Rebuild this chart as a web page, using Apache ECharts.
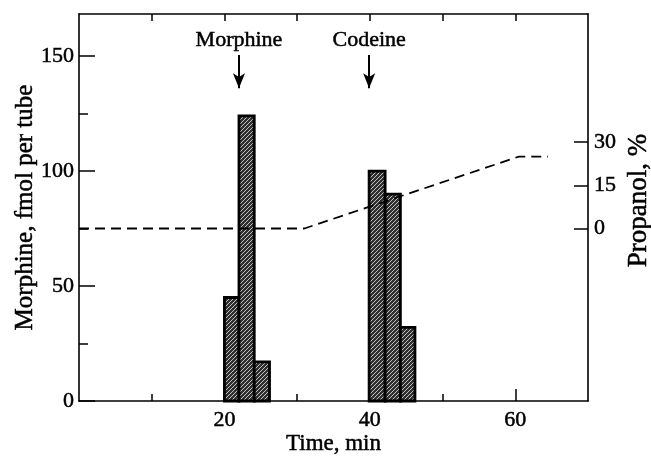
<!DOCTYPE html>
<html>
<head>
<meta charset="utf-8">
<script src="https://cdn.jsdelivr.net/npm/echarts@6/dist/echarts.min.js"></script>
<style>
  html, body { margin: 0; padding: 0; background: #fff; }
  #chart { width: 651px; height: 456px; }
</style>
</head>
<body>
<div id="chart"></div>
<script>
// histogram bins (edges in min) and heights (fmol per tube)
const morphineEdges = [20, 22, 24.1, 26.2];
const morphineValues = [45, 124, 17];
const codeineEdges = [39.9, 42.1, 44.2, 46.2];
const codeineValues = [100, 90, 32];

// propanol gradient (dashed line)
const propanolTime = [0, 31, 60.5, 64.5];
const propanolPct = [0, 0, 25, 25];

// ticks
const xMajorTicks = [20, 40, 60];
const xMinorTicks = [10, 30, 50];
const xTopTicks = [10, 20, 30, 40, 50, 60];
const yMajorTicks = [0, 50, 100, 150];
const yMinorTicks = [25, 75, 125];
const propanolTicks = [0, 15, 30];

// injection arrows
const arrowTime = [22, 39.9];
const arrowLabels = ["Morphine", "Codeine"];

const FONT = "Liberation Serif";
const INK = "#000";
// scanned type looks a bit heavier than plain Times
const txt = (size) => ({
    color: INK, fontFamily: FONT, fontSize: size,
    textBorderColor: INK, textBorderWidth: 0.5,
});

function hatch() {
    const c = document.createElement("canvas");
    c.width = c.height = 4;
    const ctx = c.getContext("2d");
    ctx.fillStyle = "#303030";
    ctx.fillRect(0, 0, 4, 4);
    ctx.strokeStyle = "#d0d0d0";
    ctx.lineWidth = 0.9;
    ctx.beginPath();
    ctx.moveTo(0, 4); ctx.lineTo(4, 0);
    ctx.moveTo(-1, 1); ctx.lineTo(1, -1);
    ctx.moveTo(3, 5); ctx.lineTo(5, 3);
    ctx.stroke();
    return { image: c, repeat: "repeat" };
}

function bins(edges, values) {
    return values.map((v, i) => [edges[i], edges[i + 1], v]);
}

const hatchFill = hatch();
const barData = bins(morphineEdges, morphineValues).concat(bins(codeineEdges, codeineValues));

const tickStyle = { color: INK, width: 1.5 };
const lineStyle = { color: INK, width: 1.6 };

const chart = echarts.init(document.getElementById("chart"));
chart.setOption({
    animation: false,
    backgroundColor: "#fff",
    grid: { left: 79, right: 63, top: 14, bottom: 55, outerBoundsMode: "none" },
    xAxis: [
        {
            type: "value", position: "bottom", min: 0, max: 70,
            axisLine: { onZero: false, lineStyle },
            axisTick: { inside: true, length: 12, customValues: xMajorTicks, lineStyle: tickStyle },
            axisLabel: Object.assign({ customValues: xMajorTicks, margin: 8 }, txt(22)),
            splitLine: { show: false },
            name: "Time, min", nameLocation: "middle", nameGap: 31, nameMoveOverlap: false,
            nameTextStyle: txt(23),
        },
        {
            type: "value", position: "bottom", min: 0, max: 70,
            axisLine: { show: false, onZero: false },
            axisTick: { inside: true, length: 7, customValues: xMinorTicks, lineStyle: tickStyle },
            axisLabel: { show: false },
            splitLine: { show: false },
        },
        {
            type: "value", position: "top", min: 0, max: 70,
            axisLine: { show: true, onZero: false, lineStyle },
            axisTick: { inside: true, length: 7, customValues: xTopTicks, lineStyle: tickStyle },
            axisLabel: { show: false },
            splitLine: { show: false },
        },
    ],
    yAxis: [
        {
            type: "value", position: "left", min: 0, max: 168.3,
            axisLine: { show: true, onZero: false, lineStyle },
            axisTick: { show: true, inside: true, length: 16, customValues: yMajorTicks, lineStyle: tickStyle },
            axisLabel: Object.assign({ customValues: yMajorTicks, margin: 5 }, txt(22)),
            splitLine: { show: false },
            name: "Morphine, fmol per tube", nameLocation: "middle", nameGap: 41, nameRotate: 90,
            nameMoveOverlap: false,
            nameTextStyle: txt(25),
        },
        {
            type: "value", position: "right", min: -60, max: 74.6,
            axisLine: { show: true, onZero: false, lineStyle },
            axisTick: { show: true, inside: true, length: 14, customValues: propanolTicks, lineStyle: tickStyle },
            axisLabel: Object.assign({ customValues: propanolTicks, margin: 6 }, txt(22)),
            splitLine: { show: false },
            name: "Propanol, %", nameLocation: "middle", nameGap: 37, nameRotate: 90,
            nameMoveOverlap: false,
            nameTextStyle: Object.assign({ padding: [0, 0, 0, 14] }, txt(27)),
        },
        {
            type: "value", position: "left", min: 0, max: 168.3,
            axisLine: { show: false, onZero: false },
            axisTick: { show: true, inside: true, length: 9, customValues: yMinorTicks, lineStyle: tickStyle },
            axisLabel: { show: false },
            splitLine: { show: false },
        },
    ],
    series: [
        {
            type: "custom",
            xAxisIndex: 0, yAxisIndex: 0,
            data: barData,
            encode: { x: [0, 1], y: 2 },
            renderItem: (params, api) => {
                const p0 = api.coord([api.value(0), 0]);
                const p1 = api.coord([api.value(1), api.value(2)]);
                return {
                    type: "rect",
                    shape: { x: p0[0], y: p1[1], width: p1[0] - p0[0], height: p0[1] - p1[1] },
                    style: { fill: hatchFill, stroke: "#000", lineWidth: 2.8 },
                };
            },
        },
        {
            type: "line",
            xAxisIndex: 0, yAxisIndex: 1,
            data: propanolTime.map((t, i) => [t, propanolPct[i]]),
            symbol: "none",
            lineStyle: { color: INK, width: 1.8, type: [10, 6] },
        },
        {
            type: "line",
            xAxisIndex: 0, yAxisIndex: 0,
            data: [],
            markLine: {
                silent: true,
                symbol: ["none", "arrow"],
                symbolSize: [9, 15],
                lineStyle: { color: INK, width: 2, type: "solid" },
                label: Object.assign({ show: true, position: "start", formatter: "{b}", distance: 4 }, txt(22)),
                data: arrowTime.map((t, i) => [
                    { name: arrowLabels[i], coord: [t, 150.5] },
                    { coord: [t, 136] },
                ]),
            },
        },
    ],
});
</script>
</body>
</html>
